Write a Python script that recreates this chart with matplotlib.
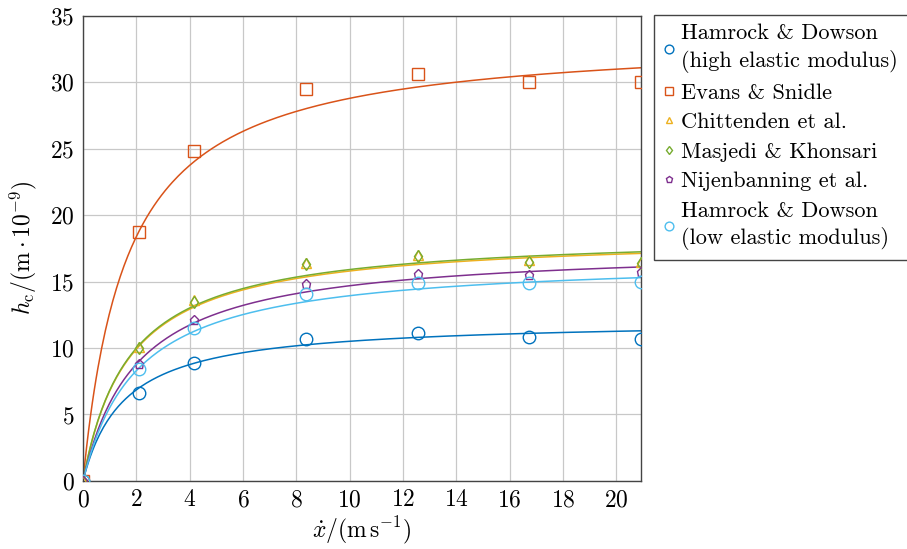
import numpy as np
from matplotlib import pyplot as plt

plt.rcParams['font.family'] = 'serif'
plt.rcParams['font.serif'] = ['cmr10', 'DejaVu Serif']
plt.rcParams['mathtext.fontset'] = 'cm'
plt.rcParams['axes.formatter.use_mathtext'] = True

# measured speeds (m/s)
speed = [0, 2.09, 4.18, 8.37, 12.55, 16.74, 20.92]

# measured film thickness (nm), one list per model
hamrock_high = [0, 6.6, 8.9, 10.7, 11.1, 10.8, 10.7]
evans = [0, 18.7, 24.8, 29.5, 30.6, 30.0, 30.0]
chittenden = [0, 10.1, 13.6, 16.4, 17.0, 16.6, 16.5]
masjedi = [0, 10.0, 13.5, 16.3, 16.9, 16.5, 16.4]
nijenbanning = [0, 8.8, 12.1, 14.8, 15.6, 15.5, 15.7]
hamrock_low = [0, 8.4, 11.5, 14.1, 14.9, 14.9, 15.0]

labels = ['Hamrock & Dowson\n(high elastic modulus)', 'Evans & Snidle',
          'Chittenden et al.', 'Masjedi & Khonsari', 'Nijenbanning et al.',
          'Hamrock & Dowson\n(low elastic modulus)']
markers = ['o', 's', '^', 'd', 'p', 'o']
colors = ['#0072BD', '#D95319', '#EDB120', '#77AC30', '#7E2F8E', '#4DBEEE']

# saturation fit h = a*v/(b+v), parameters
fit_a = [12.13, 33.55, 18.55, 18.68, 17.66, 16.8]
fit_b = [1.54, 1.65, 1.74, 1.74, 2.02, 2.05]

series = [hamrock_high, evans, chittenden, masjedi, nijenbanning, hamrock_low]

fig = plt.figure(figsize=(9.07, 5.49), dpi=100)
ax = fig.add_axes([0.0915, 0.124, 0.615, 0.847])

v = np.linspace(0, speed[-1], 300)
for vals, a, b, m, c, lab in zip(series, fit_a, fit_b, markers, colors, labels):
    ax.plot(v, a * v / (b + v), color=c, linewidth=1.1, zorder=2)
    ms = 9 if m in ('o', 's') else 6.5
    ax.plot(speed, vals, linestyle='none', marker=m, markersize=ms,
            markerfacecolor='none', markeredgecolor=c, markeredgewidth=1.0,
            label=lab, zorder=3)

ax.set_xlim(0, speed[-1])
ax.set_ylim(0, 35)
ax.set_xticks(range(0, 21, 2))
ax.set_yticks(range(0, 36, 5))
ax.grid(True, color='#c8c8c8', linewidth=0.9)
ax.set_axisbelow(True)
ax.tick_params(labelsize=17, length=0, pad=6)
for s in ax.spines.values():
    s.set_color('#444444')
    s.set_linewidth(1.0)

ax.set_xlabel(r'$\dot{x}/(\mathrm{m\,s^{-1}})$', fontsize=17, labelpad=2)
ax.set_ylabel(r'$h_\mathrm{c}/(\mathrm{m}\cdot10^{-9})$', fontsize=17,
              labelpad=8)

leg = ax.legend(loc='upper left', bbox_to_anchor=(1.024, 1.003),
                fontsize=16.1, fancybox=False, framealpha=1,
                edgecolor='#444444', markerscale=0.7, handlelength=0.5,
                handletextpad=0.3, borderpad=0.42, labelspacing=0.44,
                borderaxespad=0)
leg.get_frame().set_linewidth(1.0)
for t in leg.get_texts():
    t.set_linespacing(1.4)

fig.savefig('out.png', dpi=100)
